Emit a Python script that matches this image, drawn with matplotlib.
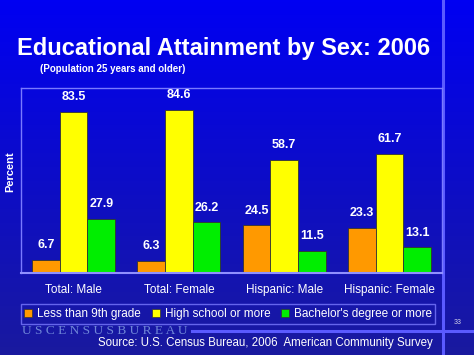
import numpy as np
import matplotlib
matplotlib.use("Agg")
import matplotlib.pyplot as plt
from matplotlib.patches import Patch

plt.rcParams['font.family'] = ['Liberation Sans', 'DejaVu Sans']

groups = ["Total: Male", "Total: Female", "Hispanic: Male", "Hispanic: Female"]
series = ["Less than 9th grade", "High school or more", "Bachelor's degree or more"]
less_9th = [6.7, 6.3, 24.5, 23.3]
high_school = [83.5, 84.6, 58.7, 61.7]
bachelor = [27.9, 26.2, 11.5, 13.1]
colors = ["#ff9900", "#ffff00", "#00ee00"]

W, H = 474, 355
fig = plt.figure(figsize=(W / 100, H / 100), dpi=100)

# background gradient
bg = fig.add_axes([0, 0, 1, 1], zorder=-10)
top = np.array([0.0, 0.0, 0.95])
bot = np.array([0.10, 0.10, 0.62])
t = np.linspace(0, 1, 256)[:, None]
grad = top[None, :] * (1 - t) + bot[None, :] * t
bg.imshow(grad[:, None, :], aspect='auto', extent=[0, 1, 0, 1])
bg.set_xlim(0, 1)
bg.set_ylim(0, 1)
bg.axis('off')
# slide decorations
bg.plot([443 / W, 443 / W], [0, 1], color="#5a5aff", lw=2.2)
bg.plot([192 / W, 1], [1 - 331 / H, 1 - 331 / H], color="#5a5aff", lw=2.2)
bg.text(22 / W, 1 - 331 / H, "U S C E N S U S B U R E A U", color="#6f86d8",
        fontsize=9.6, family="Liberation Serif", va='center', ha='left')

ax = fig.add_axes([21 / W, 1 - 272.7 / H, 421 / W, 184.7 / H])
ax.set_facecolor('none')
x = np.arange(len(groups))
w = 0.263
for i, (vals, c) in enumerate(zip([less_9th, high_school, bachelor], colors)):
    bars = ax.bar(x + (i - 1) * w, vals, w, color=c, edgecolor="#333333", lw=0.6)
    for b, v in zip(bars, vals):
        ax.text(b.get_x() + b.get_width() / 2, v + 4.5, f"{v}", ha='center', va='bottom',
                color='white', fontsize=9, fontweight='bold')
ax.set_xlim(-0.5, 3.5)
ax.set_ylim(0, 95.8)
ax.set_yticks([])
ax.set_xticks(x)
ax.set_xticklabels(groups, color='white', fontsize=8.5)
ax.tick_params(axis='x', length=0, pad=8)
for s in ax.spines.values():
    s.set_color("#7a7aff")
    s.set_linewidth(1)
ax.spines['bottom'].set_color("#9090ff")
ax.spines['bottom'].set_linewidth(1.5)

fig.text(17 / W, 1 - 49 / H, "Educational Attainment by Sex: 2006", color='white',
         fontsize=17, fontweight='bold', va='center', ha='left')
fig.text(40 / W, 1 - 69 / H, "(Population 25 years and older)", color='white',
         fontsize=7, fontweight='bold', va='center', ha='left')
fig.text(10 / W, 1 - 172 / H, "Percent", color='white', fontsize=8, fontweight='bold',
         rotation=90, va='center', ha='center')
fig.text(433 / W, 1 - 343 / H, "Source: U.S. Census Bureau, 2006  American Community Survey",
         color='white', fontsize=8.3, va='center', ha='right')
fig.text(458 / W, 1 - 322 / H, "33", color='#d0d0e8', fontsize=5, va='center', ha='center')

handles = [Patch(facecolor=c, edgecolor="#333333", lw=0.5) for c in colors]
leg = fig.legend(handles, series, loc='center', ncol=3,
                 bbox_to_anchor=(228 / W, 1 - 314 / H), fontsize=8.5,
                 frameon=True, fancybox=False, handlelength=0.7, handleheight=0.7,
                 handletextpad=0.4, columnspacing=0.9, borderpad=0.3, labelcolor='white')
leg.get_frame().set_facecolor('none')
leg.get_frame().set_edgecolor("#7a7aff")

fig.savefig("out.png", dpi=100)
